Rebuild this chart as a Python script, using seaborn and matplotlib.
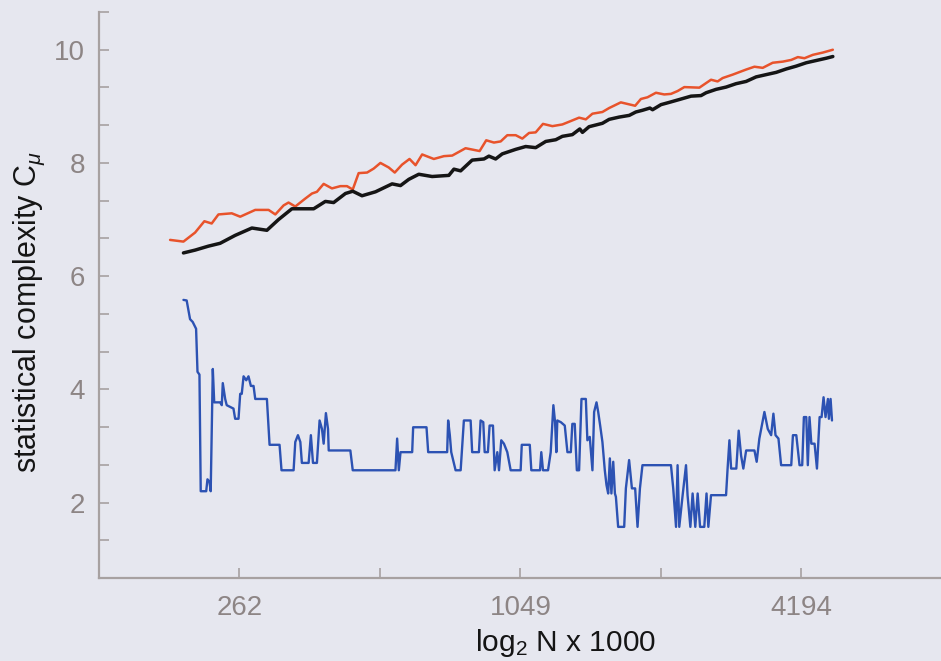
import matplotlib
matplotlib.use("Agg")
import matplotlib.pyplot as plt
from matplotlib.ticker import FixedLocator, FixedFormatter, NullFormatter
import pandas as pd
import seaborn as sns

# --- series: log2 of sequence length N and statistical complexity C_mu ---
red_log2n = [17.506, 17.601, 17.684, 17.750, 17.802, 17.850, 17.945, 18.005, 18.112, 18.207,
             18.255, 18.314, 18.349, 18.397, 18.468, 18.516, 18.551, 18.599, 18.658, 18.718,
             18.765, 18.806, 18.848, 18.908, 18.955, 19.003, 19.062, 19.105, 19.157, 19.210,
             19.253, 19.300, 19.383, 19.455, 19.514, 19.609, 19.709, 19.756, 19.811, 19.859,
             19.906, 19.966, 20.013, 20.061, 20.108, 20.160, 20.227, 20.298, 20.358, 20.417,
             20.465, 20.512, 20.583, 20.631, 20.714, 20.816, 20.857, 20.904, 20.964, 21.023,
             21.071, 21.118, 21.166, 21.273, 21.356, 21.403, 21.439, 21.510, 21.606, 21.665,
             21.724, 21.795, 21.867, 21.927, 21.974, 22.021, 22.081, 22.152, 22.223]
red_cmu = [6.64, 6.61, 6.77, 6.97, 6.93, 7.09, 7.11, 7.05, 7.17, 7.17,
           7.09, 7.25, 7.30, 7.23, 7.37, 7.46, 7.49, 7.63, 7.55, 7.59,
           7.59, 7.53, 7.82, 7.83, 7.90, 8.00, 7.92, 7.83, 7.97, 8.07,
           7.96, 8.15, 8.07, 8.12, 8.13, 8.26, 8.21, 8.40, 8.36, 8.38,
           8.49, 8.49, 8.43, 8.53, 8.54, 8.69, 8.65, 8.68, 8.74, 8.80,
           8.77, 8.87, 8.90, 8.97, 9.07, 9.01, 9.13, 9.16, 9.24, 9.21,
           9.22, 9.27, 9.34, 9.33, 9.47, 9.44, 9.50, 9.56, 9.65, 9.70,
           9.68, 9.77, 9.79, 9.82, 9.87, 9.85, 9.91, 9.95, 10.00]

black_log2n = [17.601, 17.684, 17.779, 17.862, 17.969, 18.088, 18.195, 18.278, 18.373, 18.528,
               18.611, 18.670, 18.754, 18.806, 18.872, 18.968, 19.086, 19.146, 19.205, 19.276,
               19.371, 19.490, 19.526, 19.574, 19.656, 19.740, 19.775, 19.823, 19.870, 19.966,
               20.037, 20.108, 20.180, 20.251, 20.298, 20.369, 20.422, 20.441, 20.488, 20.583,
               20.631, 20.702, 20.774, 20.821, 20.868, 20.921, 20.940, 21.000, 21.059, 21.130,
               21.214, 21.285, 21.321, 21.392, 21.463, 21.534, 21.606, 21.677, 21.748, 21.820,
               21.891, 21.962, 22.034, 22.105, 22.176, 22.223]
black_cmu = [6.41, 6.46, 6.53, 6.58, 6.72, 6.85, 6.81, 7.00, 7.19, 7.19,
             7.32, 7.30, 7.46, 7.50, 7.42, 7.49, 7.63, 7.60, 7.71, 7.80,
             7.76, 7.78, 7.89, 7.86, 8.05, 8.07, 8.12, 8.07, 8.16, 8.24,
             8.29, 8.27, 8.38, 8.41, 8.47, 8.50, 8.60, 8.54, 8.64, 8.70,
             8.77, 8.81, 8.84, 8.90, 8.93, 8.97, 8.94, 9.03, 9.07, 9.12,
             9.18, 9.19, 9.24, 9.30, 9.34, 9.40, 9.44, 9.52, 9.56, 9.60,
             9.66, 9.71, 9.77, 9.81, 9.85, 9.88]

blue_log2n = [17.601, 17.624, 17.648, 17.667, 17.691, 17.701, 17.715, 17.724, 17.763, 17.772,
              17.786, 17.795, 17.810, 17.820, 17.862, 17.874, 17.881, 17.898, 17.909, 17.957,
              17.969, 17.993, 18.005, 18.016, 18.029, 18.048, 18.064, 18.081, 18.100, 18.112,
              18.195, 18.214, 18.285, 18.299, 18.385, 18.397, 18.416, 18.433, 18.444, 18.492,
              18.508, 18.523, 18.551, 18.570, 18.587, 18.599, 18.615, 18.630, 18.635, 18.789,
              18.806, 19.110, 19.122, 19.134, 19.146, 19.169, 19.229, 19.236, 19.331, 19.343,
              19.478, 19.485, 19.497, 19.507, 19.538, 19.574, 19.597, 19.645, 19.656, 19.704,
              19.716, 19.735, 19.745, 19.768, 19.780, 19.804, 19.816, 19.835, 19.847, 19.863,
              19.882, 19.906, 19.930, 20.001, 20.009, 20.066, 20.077, 20.139, 20.148, 20.160,
              20.196, 20.215, 20.234, 20.246, 20.255, 20.262, 20.287, 20.315, 20.334, 20.358,
              20.369, 20.386, 20.401, 20.417, 20.434, 20.465, 20.476, 20.493, 20.512, 20.524,
              20.541, 20.553, 20.567, 20.583, 20.600, 20.612, 20.624, 20.636, 20.647, 20.660,
              20.672, 20.679, 20.695, 20.738, 20.750, 20.773, 20.793, 20.816, 20.833, 20.850,
              20.868, 21.071, 21.087, 21.107, 21.118, 21.130, 21.154, 21.178, 21.189, 21.209,
              21.225, 21.244, 21.261, 21.278, 21.308, 21.324, 21.337, 21.356, 21.463, 21.474,
              21.487, 21.499, 21.536, 21.553, 21.570, 21.586, 21.606, 21.665, 21.681, 21.700,
              21.736, 21.760, 21.784, 21.800, 21.815, 21.836, 21.855, 21.927, 21.939, 21.963,
              21.986, 22.005, 22.017, 22.034, 22.045, 22.057, 22.070, 22.093, 22.110, 22.129,
              22.143, 22.157, 22.171, 22.188, 22.195, 22.207, 22.217]
blue_cmu = [5.58, 5.57, 5.24, 5.19, 5.07, 4.31, 4.26, 2.20, 2.20, 2.41,
            2.37, 2.20, 4.36, 3.77, 3.77, 3.72, 4.11, 3.83, 3.72, 3.66,
            3.48, 3.48, 3.92, 3.92, 4.23, 4.16, 4.23, 4.06, 4.06, 3.83,
            3.83, 3.02, 3.02, 2.57, 2.57, 3.07, 3.19, 3.07, 2.70, 2.70,
            3.19, 2.70, 2.70, 3.45, 3.30, 3.04, 3.58, 3.30, 2.92, 2.92,
            2.57, 2.57, 3.13, 2.57, 2.89, 2.89, 2.89, 3.33, 3.33, 2.89,
            2.89, 3.45, 3.19, 2.89, 2.57, 2.57, 3.45, 3.45, 2.89, 2.89,
            3.45, 3.42, 2.89, 2.89, 3.36, 3.36, 2.57, 2.89, 2.57, 3.10,
            3.04, 2.89, 2.57, 2.57, 3.02, 3.02, 2.57, 2.57, 2.89, 2.57,
            2.57, 2.89, 3.72, 3.42, 2.89, 3.45, 3.42, 3.36, 2.89, 2.89,
            3.39, 3.39, 2.57, 2.57, 3.83, 3.83, 3.10, 3.16, 2.57, 3.60,
            3.77, 3.60, 3.36, 3.07, 2.57, 2.31, 2.16, 2.78, 2.16, 2.72,
            2.16, 2.10, 1.57, 1.57, 2.25, 2.75, 2.25, 2.25, 1.57, 2.25,
            2.66, 2.66, 2.25, 1.57, 2.66, 1.57, 2.13, 2.66, 2.13, 1.57,
            2.16, 1.57, 2.16, 1.57, 1.57, 2.16, 1.57, 2.13, 2.13, 2.60,
            3.10, 2.60, 2.60, 3.27, 2.83, 2.60, 2.92, 2.92, 2.72, 3.13,
            3.60, 3.30, 3.19, 3.57, 3.19, 3.13, 2.66, 2.66, 3.19, 3.19,
            2.66, 2.66, 3.51, 3.51, 2.66, 3.51, 3.04, 3.04, 2.60, 3.51,
            3.51, 3.86, 3.51, 3.83, 3.48, 3.83, 3.45]

# --- axis ticks ---
x_major_log2 = [18, 20, 22]
x_major_labels = ["262", "1049", "4194"]
x_minor_log2 = [19, 21]
y_major = [2, 4, 6, 8, 10]
y_major_labels = ["2", "4", "6", "8", "10"]


def to_frame(log2n, cmu):
    df = pd.DataFrame({"log2n": log2n, "cmu": cmu})
    df["n_thousands"] = 2.0 ** df["log2n"] / 1000.0
    return df


red_df = to_frame(red_log2n, red_cmu)
black_df = to_frame(black_log2n, black_cmu)
blue_df = to_frame(blue_log2n, blue_cmu)

sns.set_style("ticks")
plt.rcParams["font.family"] = ["Liberation Sans", "DejaVu Sans"]
plt.rcParams["mathtext.fontset"] = "custom"
plt.rcParams["mathtext.rm"] = "Liberation Sans"
plt.rcParams["mathtext.it"] = "Liberation Sans:italic"
plt.rcParams["mathtext.bf"] = "Liberation Sans:bold"

bg = "#e6e7ef"
axis_grey = "#a7a1a1"
label_grey = "#8d8585"

fig = plt.figure(figsize=(9.41, 6.61), dpi=100, facecolor=bg)
ax = fig.add_axes([99 / 941, 1 - 578 / 661, 843 / 941, 566 / 661])
ax.set_facecolor(bg)

sns.lineplot(data=red_df, x="n_thousands", y="cmu", ax=ax, color="#e8532b",
             linewidth=1.8, estimator=None, sort=False, legend=False)
sns.lineplot(data=black_df, x="n_thousands", y="cmu", ax=ax, color="#151515",
             linewidth=2.5, estimator=None, sort=False, legend=False)
sns.lineplot(data=blue_df, x="n_thousands", y="cmu", ax=ax, color="#2c52b3",
             linewidth=1.7, estimator=None, sort=False, legend=False)

ax.set_xscale("log", base=2)
ax.set_xlim(2 ** 17 / 1000, 2 ** 23 / 1000)
ax.set_ylim(2 / 3, 32 / 3)

ax.xaxis.set_major_locator(FixedLocator([2 ** e / 1000 for e in x_major_log2]))
ax.xaxis.set_major_formatter(FixedFormatter(x_major_labels))
ax.xaxis.set_minor_locator(FixedLocator([2 ** e / 1000 for e in x_minor_log2]))
ax.xaxis.set_minor_formatter(NullFormatter())

ax.yaxis.set_major_locator(FixedLocator(y_major))
ax.yaxis.set_major_formatter(FixedFormatter(y_major_labels))
ax.yaxis.set_minor_locator(FixedLocator([k * 2 / 3 for k in range(1, 17) if k % 3]))
ax.yaxis.set_minor_formatter(NullFormatter())

for side in ("top", "right"):
    ax.spines[side].set_visible(False)
for side in ("left", "bottom"):
    ax.spines[side].set_color(axis_grey)
    ax.spines[side].set_linewidth(1.6)

ax.tick_params(which="both", direction="in", length=7.5, width=1.2, color=axis_grey,
               labelcolor=label_grey, labelsize=20)
ax.tick_params(axis="y", which="both", pad=10)
ax.tick_params(axis="x", which="both", pad=12)

ax.set_xlabel(r"log$_2$ N x 1000", fontsize=21.5, color="#151515")
ax.set_ylabel(r"statistical complexity $\mathrm{C}_{\mu}$", fontsize=22, color="#151515")
ax.xaxis.set_label_coords(0.553, -0.087)
ax.yaxis.set_label_coords(-0.062, 0.47)

fig.savefig("out.png", dpi=100, facecolor=bg)
